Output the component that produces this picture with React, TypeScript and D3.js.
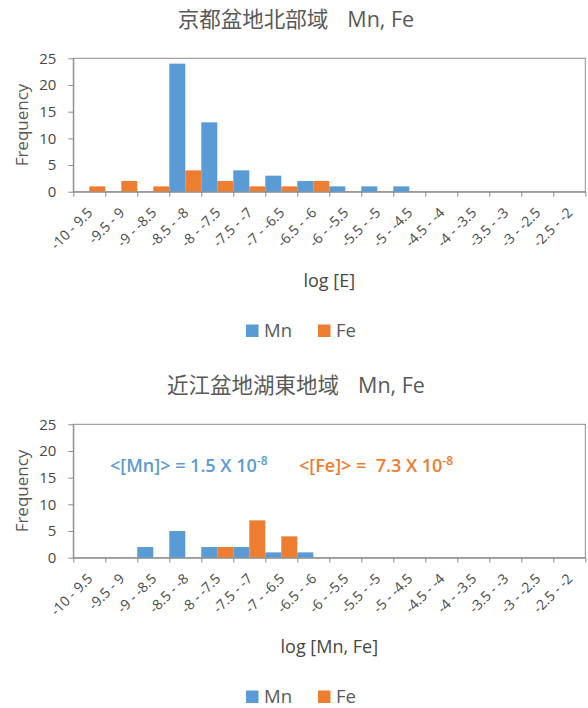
import { useRef, useEffect } from "react";
import * as d3 from "d3";

// bins of log concentration
const categories = [
  "-10 - 9.5", "-9.5 - 9", "-9 - -8.5", "-8.5 - -8", "-8 - -7.5", "-7.5 - -7",
  "-7 - -6.5", "-6.5 - -6", "-6 - -5.5", "-5.5 - -5", "-5 - -4.5", "-4.5 - -4",
  "-4 - -3.5", "-3.5 - -3", "-3 - -2.5", "-2.5 - -2",
];
const seriesNames = ["Mn", "Fe"];
const seriesColors = ["#5b9bd5", "#ed7d31"];

// 京都盆地北部域
const kyotoMn = [0, 0, 0, 24, 13, 4, 3, 2, 1, 1, 1, 0, 0, 0, 0, 0];
const kyotoFe = [1, 2, 1, 4, 2, 1, 1, 2, 0, 0, 0, 0, 0, 0, 0, 0];
// 近江盆地湖東地域
const omiMn = [0, 0, 2, 5, 2, 2, 1, 1, 0, 0, 0, 0, 0, 0, 0, 0];
const omiFe = [0, 0, 0, 0, 2, 7, 4, 0, 0, 0, 0, 0, 0, 0, 0, 0];

const yTicks = [0, 5, 10, 15, 20, 25];

const charts = [
  { title: "京都盆地北部域", sub: "Mn, Fe", xTitle: "log [E]", mn: kyotoMn, fe: kyotoFe, notes: [] },
  {
    title: "近江盆地湖東地域", sub: "Mn, Fe", xTitle: "log [Mn, Fe]", mn: omiMn, fe: omiFe,
    notes: [
      { text: "<[Mn]> = 1.5 X 10", exp: "-8", color: seriesColors[0], x: 110 },
      { text: "<[Fe]> =  7.3 X 10", exp: "-8", color: seriesColors[1], x: 299 },
    ],
  },
];

export default function App() {
  const ref = useRef(null);

  function init() {
    const settings = {
      width: 588,
      height: 708,
      chartOffset: 366,
      margin: { top: 58.3, left: 73.3, right: 585.3, bottom: 191.7 },
    };
    const font = "'Open Sans', 'Noto Sans CJK JP', sans-serif";
    const textColor = "#595959";
    const labelColor = "#474747";
    const lineColor = "#8c8c8c";

    d3.select(ref.current).selectAll("*").remove();
    const svg = d3
      .select(ref.current)
      .append("svg")
      .attr("width", settings.width)
      .attr("height", settings.height)
      .style("position", "absolute")
      .style("left", 0)
      .style("top", 0)
      .attr("font-family", font);

    const { margin } = settings;
    const x = d3.scaleBand().domain(categories).range([margin.left, margin.right]).padding(0);
    const xSub = d3.scaleBand().domain(seriesNames).range([0, x.bandwidth()]).padding(0);
    const xEdge = d3.scaleLinear().domain([0, categories.length]).range([margin.left, margin.right]);
    const y = d3.scaleLinear().domain([0, 25]).range([margin.bottom, margin.top]);

    charts.forEach((c, ci) => {
      const g = svg.append("g").attr("transform", `translate(0,${ci * settings.chartOffset})`);

      // title
      const t = g
        .append("text")
        .attr("x", 296)
        .attr("y", 27)
        .attr("text-anchor", "middle")
        .attr("font-size", 21.5)
        .attr("fill", textColor);
      t.append("tspan").text(c.title);
      t.append("tspan").attr("dx", 19).text(c.sub);

      // plot border
      g.append("rect")
        .attr("x", margin.left)
        .attr("y", margin.top)
        .attr("width", margin.right - margin.left)
        .attr("height", margin.bottom - margin.top)
        .attr("fill", "none")
        .attr("stroke", lineColor);

      // bars
      [c.mn, c.fe].forEach((vals, si) => {
        g.append("g")
          .selectAll("rect")
          .data(vals)
          .join("rect")
          .attr("x", (d, i) => x(categories[i]) + xSub(seriesNames[si]))
          .attr("width", xSub.bandwidth())
          .attr("y", (d) => y(d))
          .attr("height", (d) => y(0) - y(d))
          .attr("fill", seriesColors[si]);
      });

      // y axis
      g.append("g")
        .attr("transform", `translate(${margin.left},0)`)
        .call(d3.axisLeft(y).tickValues(yTicks).tickSize(5).tickSizeOuter(0).tickPadding(12))
        .call((a) => a.select(".domain").attr("stroke", lineColor))
        .call((a) => a.selectAll(".tick line").attr("stroke", lineColor))
        .call((a) =>
          a.selectAll(".tick text").attr("font-size", 15).attr("fill", labelColor).attr("font-family", font)
        );

      // x axis (ticks at bin edges)
      g.append("g")
        .attr("transform", `translate(0,${margin.bottom})`)
        .call(d3.axisBottom(xEdge).tickValues(d3.range(categories.length + 1)).tickSize(5).tickSizeOuter(0).tickFormat(() => ""))
        .call((a) => a.select(".domain").attr("stroke", lineColor))
        .call((a) => a.selectAll(".tick line").attr("stroke", lineColor));

      g.append("g")
        .selectAll("text")
        .data(categories)
        .join("text")
        .attr("transform", (d) => `translate(${x(d) + x.bandwidth() / 2 + 4},${margin.bottom + 22}) rotate(-45)`)
        .attr("text-anchor", "end")
        .attr("font-size", 14)
        .attr("fill", labelColor)
        .text((d) => d);

      // axis titles
      g.append("text")
        .attr("transform", `translate(28,${(margin.top + margin.bottom) / 2}) rotate(-90)`)
        .attr("text-anchor", "middle")
        .attr("font-size", 17)
        .attr("fill", textColor)
        .text("Frequency");

      g.append("text")
        .attr("x", (margin.left + margin.right) / 2)
        .attr("y", 287)
        .attr("text-anchor", "middle")
        .attr("font-size", 18)
        .attr("fill", labelColor)
        .text(c.xTitle);

      // legend
      const legendX = [246, 318];
      seriesNames.forEach((s, si) => {
        g.append("rect")
          .attr("x", legendX[si])
          .attr("y", 324.5)
          .attr("width", 12.5)
          .attr("height", 12.5)
          .attr("fill", seriesColors[si]);
        g.append("text")
          .attr("x", legendX[si] + 18)
          .attr("y", 336.5)
          .attr("font-size", 18.5)
          .attr("fill", textColor)
          .text(s);
      });

      // mean value notes
      c.notes.forEach((n) => {
        const nt = g
          .append("text")
          .attr("x", n.x)
          .attr("y", 106)
          .attr("font-size", 18)
          .attr("font-weight", 600)
          .attr("fill", n.color)
          .attr("xml:space", "preserve");
        nt.append("tspan").text(n.text);
        nt.append("tspan").attr("dy", -7).attr("font-size", 12).text(n.exp);
      });
    });
  }

  useEffect(init, []);
  return <div ref={ref}></div>;
}
